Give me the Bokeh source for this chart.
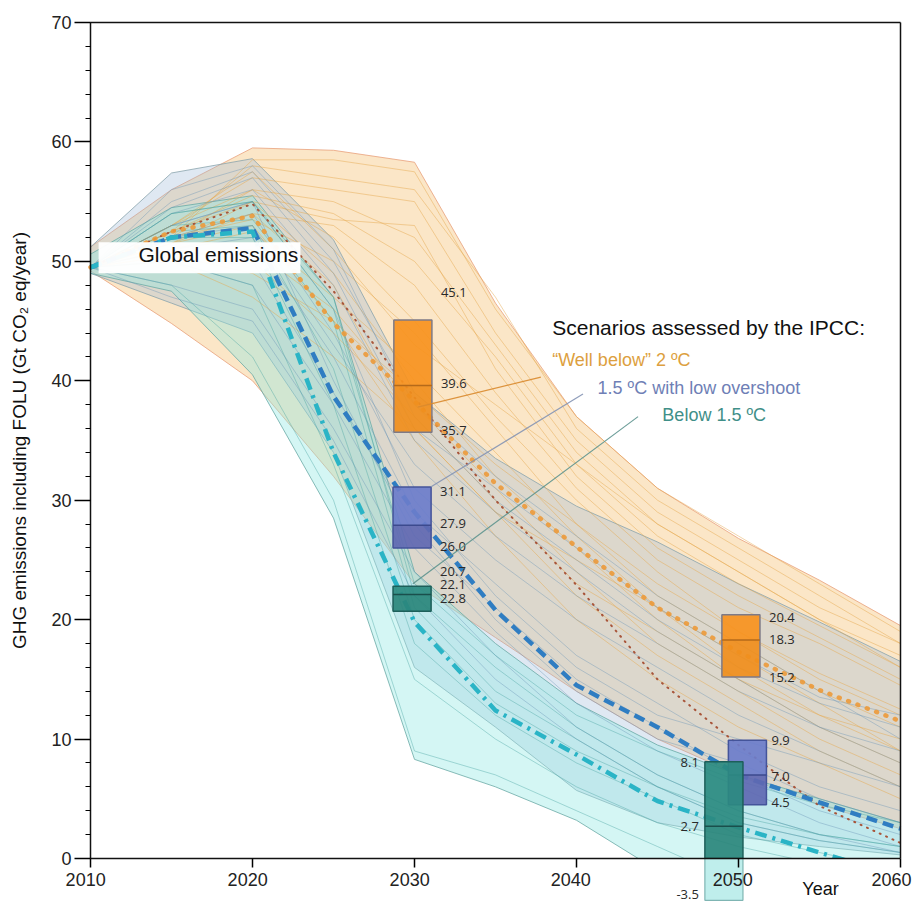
from bokeh.plotting import figure
from bokeh.models import (LinearAxis, FixedTicker, SingleIntervalTicker, Range1d,
                          Label, BoxAnnotation, ColumnDataSource)
from bokeh.core.properties import value
from bokeh.embed import file_html
from bokeh.resources import INLINE

# ---------------- data ----------------
years = [2010, 2015, 2020, 2025, 2030, 2035, 2040, 2045, 2050, 2055, 2060]

# envelopes (upper / lower) of each scenario class
wb2c_upper = [51.2, 56.0, 59.5, 59.3, 58.3, 46.5, 37.0, 31.0, 26.8, 23.3, 19.5]
wb2c_lower = [49.2, 44.8, 40.0, 32.0, 23.0, 18.5, 14.0, 10.0, 7.0, 4.5, 2.5]
lo_upper = [51.2, 57.4, 58.6, 51.8, 39.0, 33.5, 29.5, 26.5, 23.0, 19.8, 16.5]
lo_lower = [49.0, 46.5, 44.0, 34.0, 16.0, 11.0, 5.7, 3.0, 1.8, 1.0, 0.3]
b15_upper = [50.6, 54.5, 55.5, 47.0, 24.0, 18.0, 13.0, 9.5, 7.0, 5.0, 3.0]
b15_lower = [49.0, 47.5, 40.5, 28.5, 8.3, 6.0, 3.2, -1.0, -4.0, -6.0, -8.0]

# medians
wb2c_median = [49.5, 52.5, 53.8, 44.8, 38.3, 31.4, 26.1, 21.0, 17.3, 14.1, 11.5]
lo_median = [49.5, 52.0, 52.8, 38.7, 29.0, 20.8, 14.5, 11.0, 7.0, 4.7, 2.5]
b15_median = [49.5, 52.0, 52.5, 34.0, 19.8, 12.4, 8.7, 4.8, 2.6, 0.5, -1.5]
ref_path = [49.5, 52.5, 54.8, 47.5, 38.6, 30.0, 22.9, 15.0, 9.5, 4.4, 1.3]

# individual scenario pathways
wb2c_paths = [
    [49.5, 52.0, 58.5, 58.5, 57.5, 46.0, 37.0, 31.0, 27.0, 23.0, 19.0],
    [49.5, 53.0, 57.0, 56.0, 55.0, 44.0, 35.0, 29.0, 25.0, 21.0, 18.0],
    [49.5, 52.5, 55.5, 54.0, 50.0, 42.0, 33.0, 27.0, 23.0, 19.5, 16.0],
    [49.5, 51.5, 54.0, 53.0, 48.0, 39.0, 31.0, 25.0, 21.0, 18.0, 14.5],
    [49.5, 53.0, 56.0, 52.0, 45.0, 37.0, 30.0, 24.0, 19.0, 15.0, 12.0],
    [49.5, 52.0, 53.5, 50.0, 44.0, 36.0, 28.0, 22.0, 18.0, 14.0, 11.0],
    [49.5, 51.0, 52.5, 47.0, 41.0, 34.0, 27.0, 21.0, 16.0, 12.0, 9.0],
    [49.5, 52.5, 55.0, 49.0, 40.0, 32.0, 26.0, 20.0, 15.0, 11.0, 8.0],
    [49.5, 50.5, 51.0, 46.0, 38.0, 31.0, 24.0, 18.0, 14.0, 10.0, 7.0],
    [49.5, 52.0, 54.0, 48.0, 36.0, 29.0, 22.0, 17.0, 13.0, 9.0, 6.0],
    [49.5, 51.5, 53.0, 45.0, 35.0, 27.0, 20.0, 15.0, 11.0, 8.0, 5.0],
    [49.5, 53.0, 57.5, 51.0, 43.0, 38.0, 33.0, 28.0, 24.0, 20.0, 16.0],
    [49.5, 52.0, 56.0, 55.0, 52.0, 43.0, 34.0, 28.0, 24.0, 20.0, 17.0],
    [49.5, 51.0, 50.0, 44.0, 37.0, 30.0, 23.0, 19.0, 15.0, 12.0, 10.0],
    [49.5, 50.0, 47.0, 42.0, 36.0, 29.0, 25.0, 21.0, 17.0, 13.0, 9.0],
    [49.5, 52.5, 58.0, 57.0, 56.0, 47.0, 36.0, 30.0, 26.0, 22.0, 18.0],
    [49.5, 51.5, 55.0, 53.5, 53.0, 41.0, 32.0, 26.0, 22.0, 18.5, 15.0],
    [49.5, 50.5, 49.0, 45.0, 39.0, 33.0, 28.0, 23.0, 19.0, 15.5, 12.5],
]
lo_paths = [
    [49.5, 55.0, 57.5, 50.0, 38.0, 32.0, 27.0, 22.0, 18.0, 14.0, 10.0],
    [49.5, 54.0, 56.0, 48.0, 35.0, 29.0, 24.0, 19.0, 15.0, 11.0, 8.0],
    [49.5, 52.0, 54.0, 44.0, 31.0, 25.0, 20.0, 16.0, 12.0, 9.0, 6.0],
    [49.5, 51.0, 52.0, 42.0, 29.0, 23.0, 17.0, 13.0, 9.0, 6.0, 4.0],
    [49.5, 53.0, 55.0, 40.0, 27.0, 21.0, 15.0, 11.0, 7.0, 4.0, 2.0],
    [49.5, 50.0, 48.0, 38.0, 26.0, 19.0, 13.0, 9.0, 6.0, 3.0, 1.0],
    [49.5, 48.0, 46.0, 36.0, 24.0, 17.0, 11.0, 7.0, 4.0, 2.0, 0.5],
    [49.5, 52.0, 53.0, 43.0, 33.0, 27.0, 22.0, 18.0, 14.0, 11.0, 9.0],
    [49.5, 56.0, 58.0, 51.0, 37.0, 30.0, 25.0, 20.0, 16.0, 13.0, 11.0],
    [49.5, 51.0, 50.0, 39.0, 28.0, 20.0, 14.0, 10.0, 8.0, 5.0, 3.0],
    [49.5, 47.0, 45.0, 35.0, 22.0, 15.0, 10.0, 6.0, 3.0, 1.5, 0.5],
    [49.5, 53.0, 55.0, 46.0, 30.0, 22.0, 16.0, 12.0, 10.0, 8.0, 6.0],
    [49.5, 54.5, 57.0, 49.0, 36.0, 31.0, 26.0, 21.0, 17.0, 13.5, 12.0],
]
b15_paths = [
    [49.5, 54.0, 55.0, 46.0, 23.0, 17.0, 12.0, 9.0, 6.5, 4.5, 3.0],
    [49.5, 53.0, 53.5, 45.0, 21.0, 14.0, 10.0, 6.0, 3.0, 1.5, 0.5],
    [49.5, 52.0, 52.0, 38.0, 18.0, 12.0, 8.0, 5.0, 2.0, 0.5, -1.0],
    [49.5, 50.0, 48.0, 33.0, 15.0, 10.0, 6.0, 3.0, 1.0, -0.5, -2.0],
    [49.5, 48.0, 42.0, 30.0, 9.0, 7.0, 4.0, 1.0, -2.0, -3.0, -4.0],
    [49.5, 54.0, 55.0, 47.0, 22.0, 16.0, 11.0, 7.0, 4.0, 2.0, 1.0],
    [49.5, 52.5, 53.0, 41.0, 20.0, 13.0, 9.0, 6.0, 3.5, 2.0, 1.0],
]

# box summaries (bottom, median, top) at 2030 and 2050
box_years = [2030, 2050]
wb2c_box_low = [35.7, 15.2]
wb2c_box_med = [39.6, 18.3]
wb2c_box_high = [45.1, 20.4]
lo_box_low = [26.0, 4.5]
lo_box_med = [27.9, 7.0]
lo_box_high = [31.1, 9.9]
b15_box_low = [20.7, -3.5]
b15_box_med = [22.1, 2.7]
b15_box_high = [22.8, 8.1]

x_ticks = [2010, 2020, 2030, 2040, 2050, 2060]

title_text = "Scenarios assessed by the IPCC:"
class_names = ["\u201cWell below\u201d 2 \u00baC", "1.5 \u00baC with low overshoot", "Below 1.5 \u00baC"]

# ---------------- layout / style ----------------
W, H = 912, 906
LEFT, RIGHT, TOP, AXIS_Y = 90, 900, 22, 858
Y_TOP = 70
PXU = (AXIS_Y - TOP) / Y_TOP          # px per y unit
PXX = (RIGHT - LEFT) / (x_ticks[-1] - x_ticks[0])
X_LO, X_HI = x_ticks[0], x_ticks[-1]
FONT = "Liberation Sans"

# the frame covers the whole canvas; axes are placed at fixed data locations
xr = Range1d(X_LO - LEFT / PXX, X_HI + (W - RIGHT) / PXX)
yr = Range1d(-(H - AXIS_Y) / PXU, Y_TOP + TOP / PXU)
Y_MIN = yr.start

C_WB2C, C_LO, C_B15 = "#f7931e", "#6b7dcb", "#2b8a80"

p = figure(width=W, height=H, x_range=xr, y_range=yr, output_backend="svg",
           toolbar_location=None, min_border=0, min_border_left=0, min_border_right=0,
           min_border_top=0, min_border_bottom=0)
p.grid.visible = False
p.outline_line_color = None
p.background_fill_color = "white"

# axes
p.xaxis.fixed_location = 0
p.xaxis.bounds = (X_LO, X_HI)
p.xaxis.ticker = FixedTicker(ticks=x_ticks)
p.xaxis.major_label_overrides = {t: "" for t in x_ticks}
p.xaxis.major_tick_out = 9
p.xaxis.major_tick_in = 0
p.xaxis.minor_tick_out = 0
p.xaxis.minor_tick_in = 0
p.xaxis.axis_line_width = 1.5
p.xaxis.axis_line_color = "#111111"
p.xaxis.major_tick_line_width = 1.5

p.yaxis.fixed_location = X_LO
p.yaxis.ticker = SingleIntervalTicker(interval=10, num_minor_ticks=5)
p.yaxis.bounds = (0, Y_TOP)
p.yaxis.major_tick_out = 16
p.yaxis.major_tick_in = 0
p.yaxis.minor_tick_out = 5
p.yaxis.minor_tick_in = 0
p.yaxis.major_label_standoff = 3
p.yaxis.major_label_text_font = FONT
p.yaxis.major_label_text_font_size = "18px"
p.yaxis.major_label_text_color = "#222222"
p.yaxis.axis_line_width = 1.5
p.yaxis.axis_line_color = "#111111"
p.yaxis.major_tick_line_width = 1.3
p.yaxis.axis_label = "GHG emissions including FOLU (Gt CO\u2082 eq/year)"
p.yaxis.axis_label_text_font = FONT
p.yaxis.axis_label_text_font_size = "19px"
p.yaxis.axis_label_text_font_style = "normal"
p.yaxis.axis_label_text_color = "#111111"
p.yaxis.axis_label_standoff = 18

right_ax = LinearAxis(ticker=FixedTicker(ticks=[]), bounds=(0, Y_TOP), fixed_location=X_HI,
                      axis_line_width=1.5, axis_line_color="#111111",
                      major_label_standoff=0, major_tick_out=0, minor_tick_out=0)
p.add_layout(right_ax, "right")
top_ax = LinearAxis(ticker=FixedTicker(ticks=[]), bounds=(X_LO, X_HI), fixed_location=Y_TOP,
                    axis_line_width=1.5, axis_line_color="#111111",
                    major_label_standoff=0, major_tick_out=0, minor_tick_out=0)
p.add_layout(top_ax, "above")

# envelopes
def envelope(upper, lower, fill, alpha, edge):
    p.patch(years + years[::-1], upper + lower[::-1], fill_color=fill,
            fill_alpha=alpha, line_color=edge, line_alpha=0.8, line_width=1)

envelope(wb2c_upper, wb2c_lower, "#f7cd90", 0.5, "#e8a07a")
envelope(lo_upper, lo_lower, "#9db8d6", 0.32, "#8aa4ac")
envelope(b15_upper, b15_lower, "#8ee8e2", 0.38, "#6aaaa6")

# individual paths
p.multi_line([years] * len(wb2c_paths), wb2c_paths, line_color="#e6a84e",
             line_alpha=0.6, line_width=0.8)
p.multi_line([years] * len(lo_paths), lo_paths, line_color="#6a93b6",
             line_alpha=0.5, line_width=0.8)
p.multi_line([years] * len(b15_paths), b15_paths, line_color="#46a2a0",
             line_alpha=0.5, line_width=0.8)

# medians
p.line(years, ref_path, line_color="#a8553a", line_width=2, line_dash="1 6",
       line_cap="round")
p.line(years, wb2c_median, line_color="#ec9a3a", line_width=4.5, line_dash="1 9",
       line_cap="round", line_alpha=0.9)
p.line(years, lo_median, line_color="#2f7dc2", line_width=4.5, line_dash="11 6")
p.line(years, b15_median, line_color="#2ab4c6", line_width=4.5, line_dash="12 6 3 6")

# mask below zero
p.quad(left=X_LO - 1, right=X_HI + 1, bottom=Y_MIN, top=0,
       fill_color="white", line_color=None)

# boxes
BOX_W = 2.35
shift = {"wb2c": [-0.1, 0.15], "lo": [-0.15, 0.55], "b15": [-0.15, -0.9]}
box_specs = [
    ("wb2c", wb2c_box_low, wb2c_box_med, wb2c_box_high, C_WB2C, "#f08e1c", "#7e7a86", "#b56a1a"),
    ("lo", lo_box_low, lo_box_med, lo_box_high, C_LO, "#5f68b2", "#44549a", "#3c4a8e"),
    ("b15", b15_box_low, b15_box_med, b15_box_high, C_B15, "#2a857b", "#1d5f5a", "#1a4f4c"),
]
centers = {}
for key, lo_v, md_v, hi_v, fc, fc2, lc, mc in box_specs:
    cx = [y + s for y, s in zip(box_years, shift[key])]
    centers[key] = cx
    left = [c - BOX_W / 2 for c in cx]
    right = [c + BOX_W / 2 for c in cx]
    pos_bottom = [max(b, 0) for b in lo_v]
    p.quad(left=left, right=right, bottom=md_v, top=hi_v, fill_color=fc,
           fill_alpha=0.92, line_color=None)
    p.quad(left=left, right=right, bottom=pos_bottom, top=md_v, fill_color=fc2,
           fill_alpha=0.92, line_color=None)
    p.quad(left=left, right=right, bottom=pos_bottom, top=hi_v, fill_color=None,
           line_color=lc, line_width=1.5)
    neg_l = [l for l, b in zip(left, lo_v) if b < 0]
    neg_r = [r for r, b in zip(right, lo_v) if b < 0]
    neg_b = [b for b in lo_v if b < 0]
    if neg_b:
        p.quad(left=neg_l, right=neg_r, bottom=neg_b, top=[0] * len(neg_b),
               fill_color="#b8ecea", fill_alpha=0.9, line_color="#7fb5b3", line_width=1.2)
    p.segment(x0=left, x1=right, y0=md_v, y1=md_v, line_color=mc, line_width=1.5)

# box value labels
def ylab(v, up_px):
    return v + up_px / PXU

lab_x, lab_y, lab_t, lab_align = [], [], [], []
def add_labels(key, i, vals, ups, side, gap_px):
    c = centers[key][i]
    if side == "right":
        x = c + BOX_W / 2 + gap_px / PXX
        al = "left"
    else:
        x = c - BOX_W / 2 - gap_px / PXX
        al = "right"
    for v, u in zip(vals, ups):
        lab_x.append(x); lab_y.append(ylab(v, u)); lab_t.append(f"{v:.1f}"); lab_align.append(al)

add_labels("wb2c", 0, [wb2c_box_high[0], wb2c_box_med[0], wb2c_box_low[0]], [27, 2, 2], "right", 9)
add_labels("lo", 0, [lo_box_high[0], lo_box_med[0], lo_box_low[0]], [-4, 2, 1], "right", 9)
add_labels("b15", 0, [b15_box_low[0], b15_box_med[0], b15_box_high[0]], [40, 10, -12], "right", 9)
add_labels("wb2c", 1, [wb2c_box_high[1], wb2c_box_med[1], wb2c_box_low[1]], [-3, 0, -1], "right", 9)
add_labels("lo", 1, [lo_box_high[1], lo_box_med[1], lo_box_low[1]], [0, -2, 2], "right", 5)
add_labels("b15", 1, [b15_box_high[1], b15_box_med[1], b15_box_low[1]], [-1, 0, 6], "left", 6)

src = ColumnDataSource(dict(x=lab_x, y=lab_y, t=lab_t, a=lab_align))
p.text(x="x", y="y", text="t", text_align="a", source=src, text_baseline="middle",
       text_font=value("Open Sans"), text_font_size="13px", text_color="#2a2a2a")

# annotation pointer lines (legend -> boxes)
p.segment(x0=[2037.8], y0=[40.3], x1=[2030.2], y1=[37.8], line_color="#d98a2e",
          line_width=1.3, line_alpha=0.9)
p.segment(x0=[2040.4], y0=[38.9], x1=[2031.0], y1=[31.1], line_color="#8494b4",
          line_width=1.2, line_alpha=0.9)
p.segment(x0=[2043.8], y0=[37.0], x1=[2029.9], y1=[23.0], line_color="#5d948e",
          line_width=1.2, line_alpha=0.9)

# x tick labels (slightly left of their ticks, as in the original)
tick_shift_yr = [-0.3, -0.3, -0.3, -0.35, -0.35, -0.55]
for t, s in zip(x_ticks, tick_shift_yr):
    p.add_layout(Label(x=t + s, y=-21 / PXU, text=str(t), text_font=FONT,
                       text_font_size="18px", text_color="#222222",
                       text_baseline="middle", text_align="center"))

# "Global emissions" label
p.add_layout(BoxAnnotation(left=2010.5, right=2022.96, bottom=49.0, top=51.6,
                           fill_color="white", fill_alpha=0.96, line_color=None))
p.add_layout(Label(x=2012.96, y=50.6, text="Global emissions", text_font=FONT,
                   text_font_size="21px", text_color="#111111", text_baseline="middle"))

# legend texts
p.add_layout(Label(x=2038.5, y=44.5, text=title_text, text_font=FONT,
                   text_font_size="21px", text_color="#111111", text_baseline="middle"))
p.add_layout(Label(x=2038.5, y=41.7, text=class_names[0], text_font=FONT,
                   text_font_size="18px", text_color="#dd9f40", text_baseline="middle"))
p.add_layout(Label(x=2041.3, y=39.4, text=class_names[1], text_font=FONT,
                   text_font_size="18px", text_color="#6f7fb6", text_baseline="middle"))
p.add_layout(Label(x=2045.3, y=37.1, text=class_names[2], text_font=FONT,
                   text_font_size="18px", text_color="#3f8f88", text_baseline="middle"))

# "Year"
p.add_layout(Label(x=2055.06, y=-30 / PXU, text="Year", text_font=FONT, text_font_size="18px",
                   text_color="#111111", text_baseline="middle", text_align="center"))

open("out.html", "w").write(file_html(p, INLINE))
